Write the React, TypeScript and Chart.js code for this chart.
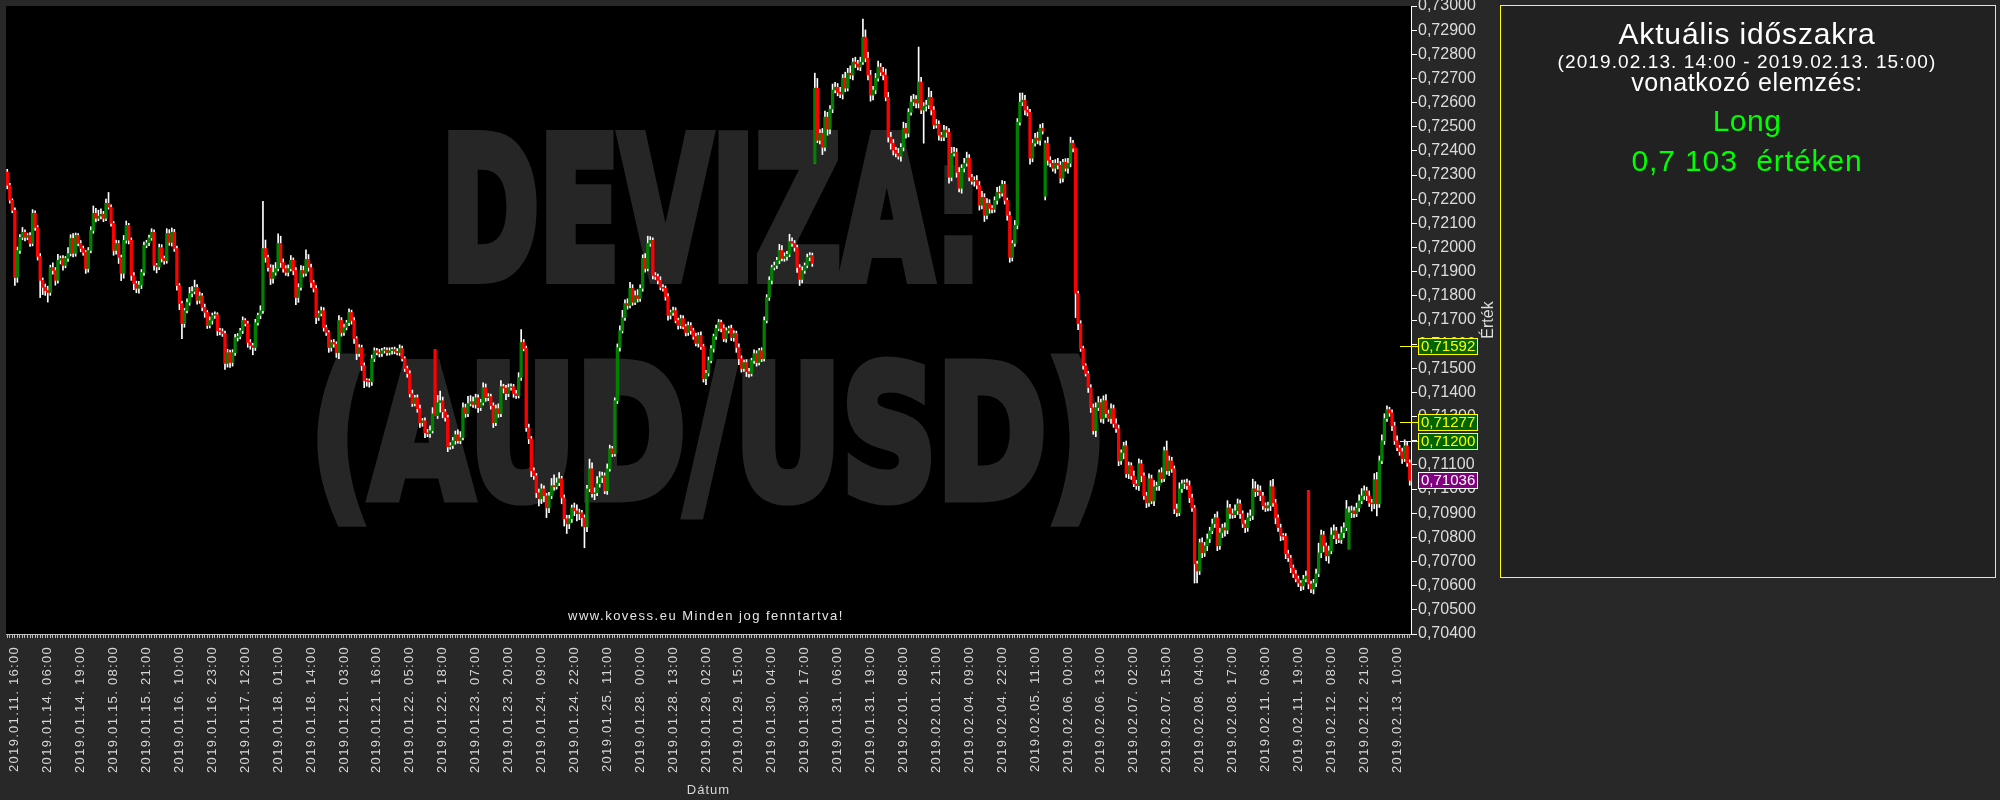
import React, { useEffect, useRef } from 'react';
import { Chart, registerables } from 'chart.js';

Chart.register(...registerables);

const FONT = '"Liberation Sans", Arial, sans-serif';

// Hourly AUD/USD candles. Prices are stored as offsets above 0.70000 in 1/100000 units.
const xTickLabels = [
  '2019.01.11. 16:00', '2019.01.14. 06:00', '2019.01.14. 19:00', '2019.01.15. 08:00', '2019.01.15. 21:00',
  '2019.01.16. 10:00', '2019.01.16. 23:00', '2019.01.17. 12:00', '2019.01.18. 01:00', '2019.01.18. 14:00',
  '2019.01.21. 03:00', '2019.01.21. 16:00', '2019.01.22. 05:00', '2019.01.22. 18:00', '2019.01.23. 07:00',
  '2019.01.23. 20:00', '2019.01.24. 09:00', '2019.01.24. 22:00', '2019.01.25. 11:00', '2019.01.28. 00:00',
  '2019.01.28. 13:00', '2019.01.29. 02:00', '2019.01.29. 15:00', '2019.01.30. 04:00', '2019.01.30. 17:00',
  '2019.01.31. 06:00', '2019.01.31. 19:00', '2019.02.01. 08:00', '2019.02.01. 21:00', '2019.02.04. 09:00',
  '2019.02.04. 22:00', '2019.02.05. 11:00', '2019.02.06. 00:00', '2019.02.06. 13:00', '2019.02.07. 02:00',
  '2019.02.07. 15:00', '2019.02.08. 04:00', '2019.02.08. 17:00', '2019.02.11. 06:00', '2019.02.11. 19:00',
  '2019.02.12. 08:00', '2019.02.12. 21:00', '2019.02.13. 10:00',
];
const firstLabelBar = 3;
const labelEvery = 13;

const closesA = [
  2258, 2196, 2154, 1876, 1988, 2042, 2063, 2042, 2050, 2017,
  2142, 2083, 1963, 1864, 1835, 1822, 1814, 1917, 1905, 1864,
  1947, 1955, 1926, 1955, 1975, 2038, 1976, 2050, 2017, 1996,
  1980, 1913, 1988, 2071, 2142, 2121, 2130, 2138, 2121, 2183,
  2167, 2100, 1988, 2017, 1959, 1893, 2030, 2092, 2030, 1884,
  1851, 1831, 1845, 1897, 2009, 2020, 2040, 2063, 1926, 1920,
  2000, 1955, 1945, 2058, 2021, 2063, 1996, 1843, 1768, 1685,
  1739, 1773, 1810, 1818, 1835, 1781, 1800, 1752, 1731, 1677,
  1698, 1719, 1722, 1656, 1652, 1644, 1520, 1565, 1524, 1565,
  1627, 1632, 1656, 1698, 1685, 1607, 1594, 1586, 1689, 1719,
  1739, 1996, 1959, 1917, 1872, 1897, 1913, 2017, 1938, 1913,
  1897, 1913, 1947, 1905, 1793, 1835, 1905, 1893, 1951, 1917,
  1855, 1831, 1710, 1727, 1739, 1669, 1648, 1586, 1607, 1600,
  1565, 1698, 1648, 1669, 1689, 1731, 1698, 1623, 1561, 1586,
  1511, 1449, 1446, 1444, 1540, 1573, 1565, 1561, 1573, 1575,
  1565, 1573, 1578, 1570,
];
const closesB = [
  1565, 1582, 1540, 1499, 1478, 1395, 1354, 1378, 1333, 1275,
  1283, 1233, 1229, 1242, 1312, 1304, 1358, 1366, 1320, 1296,
  1175, 1180, 1200, 1225, 1200, 1213, 1337, 1312, 1354, 1362,
  1350, 1378, 1337, 1358, 1420, 1378, 1383, 1345, 1275, 1333,
  1312, 1424, 1418, 1395, 1420, 1424, 1395, 1387, 1462, 1607,
  1582, 1254, 1208, 1076, 1055, 985, 960, 1001, 972, 922,
  972, 1014, 1010, 1026, 1043, 964, 877, 856, 877, 922,
  910, 898, 902, 881, 844, 1001, 1084, 981, 985, 1022,
  1047, 1055, 993, 1084, 1167, 1146, 1366, 1586, 1656, 1710,
  1768, 1760, 1831, 1773, 1801, 1789, 1831,
];
const closesC = [
  1955, 1913, 2017, 2030, 1884, 1880, 1864, 1835, 1831, 1797,
  1719, 1731, 1739, 1698, 1677, 1706, 1673, 1648, 1677, 1656,
  1632, 1603, 1636, 1590, 1457, 1480, 1532, 1582, 1632, 1665,
  1690, 1665, 1623, 1656, 1665, 1627, 1644, 1586, 1540, 1499,
  1524, 1486, 1478, 1532, 1561, 1524, 1573, 1540, 1698,
];
const closesD = [
  1793, 1864, 1917, 1926, 1947, 1988, 1955, 1963, 1972, 2025,
  2017, 2000, 1917, 1868, 1905, 1926, 1959, 1967, 1934,
];
const closesE = [
  2660, 2444, 2473, 2415, 2540, 2490, 2573, 2652, 2664, 2643,
  2635, 2701, 2660, 2722, 2714, 2768, 2760, 2747, 2768, 2871,
  2784, 2714, 2631, 2652, 2701, 2747, 2726, 2714, 2622, 2457,
  2432, 2403, 2390, 2378, 2415, 2494, 2473, 2560, 2602, 2614,
  2598,
];
const closesF = [
  2685, 2569, 2585, 2590, 2622, 2569, 2507, 2510, 2465, 2457,
  2486, 2477, 2291, 2390, 2395, 2311, 2245, 2328, 2349, 2370,
  2291, 2274, 2278, 2258, 2175, 2208, 2133, 2183, 2162, 2158,
  2195, 2229, 2225, 2262, 2195, 2133, 1959, 2017, 2092, 2519,
  2602, 2610, 2569, 2560, 2370, 2432, 2453, 2444, 2494, 2482,
  2432, 2361, 2349, 2328, 2349, 2341, 2287, 2353, 2328, 2349,
  2432, 2411, 1810, 1685, 1582, 1511, 1478, 1420,
];
const closesG = [
  1337, 1242, 1337, 1358, 1292, 1366, 1312, 1292, 1333, 1271,
  1250, 1117, 1150, 1179, 1063, 1097, 1055, 1022, 1014, 1105,
  1055, 972, 943, 1043, 951, 1010, 1014, 1068, 1043, 1159,
  1076, 1117, 1084, 918, 902, 1001, 1022, 1026, 1014, 964,
  922, 690, 661, 778, 736, 765, 794, 827, 856, 881,
  765, 819, 840, 830, 922, 898, 894, 910, 939,
];
const closesH = [
  898, 856, 840, 881, 889, 1001, 989, 993, 972, 931,
  922, 931, 1010, 943, 881, 840, 806, 804, 732, 715,
  674, 649, 628, 611, 599, 628, 640, 607, 586, 611,
  649, 736, 810, 765, 723, 744, 810, 827, 794, 790,
  819, 840, 918, 902, 910, 898, 922, 951, 972, 993,
  972, 943, 939, 1039, 939, 1117, 1200, 1292, 1329, 1316,
  1262, 1200, 1171, 1155, 1126, 1179, 1109, 1036,
];

// bars whose open differs from the previous close (price gaps): [bar index, open]
const gapOpens: [number, number][] = [[0, 2313], [169, 1577], [319, 2349], [410, 2212], [514, 993], [530, 752]];

// wick extension above / below the body
const wickUp = [
  11, 8, 6, 10, 14, 12, 20, 10, 8, 12, 15, 10, 8, 12, 10, 14, 18, 10, 20, 12,
  25, 10, 12, 8, 25, 15, 20, 10, 8, 12, 10, 8, 12, 15, 30, 20, 25, 22, 12, 18,
  45, 10, 8, 14, 12, 10, 20, 18, 8, 10, 12, 10, 15, 12, 14, 10, 12, 15, 10, 8,
  14, 12, 10, 20, 16, 18, 12, 10, 8, 10, 10, 15, 25, 20, 30, 12, 16, 10, 14, 8,
  15, 10, 12, 8, 10, 12, 10, 14, 10, 12, 14, 12, 10, 15, 8, 10, 12, 10, 14, 10,
  20, 195, 35, 10, 12, 30, 25, 40, 30, 15, 12, 15, 20, 10, 12, 15, 20, 18, 40, 20,
  15, 10, 12, 10, 15, 12, 10, 8, 10, 12, 10, 20, 12, 14, 10, 15, 10, 12, 8, 12,
  10, 12, 8, 10, 15, 12, 10, 14, 10, 12, 10, 12, 8, 10,
  12, 15, 10, 8, 10, 12, 15, 10, 12, 15, 10, 12, 14, 20, 25, 0, 30, 40, 15, 10,
  10, 12, 14, 15, 20, 25, 20, 15, 30, 25, 20, 15, 12, 14, 20, 15, 12, 10, 12, 15,
  20, 25, 10, 12, 15, 12, 10, 14, 20, 53, 12, 10, 15, 10, 12, 10, 15, 20, 12, 10,
  15, 30, 45, 20, 25, 10, 12, 15, 15, 12, 20, 25, 15, 10, 12, 15, 40, 25, 20, 30,
  25, 15, 12, 20, 15, 10, 12, 15, 20, 30, 15, 20, 25, 15, 20, 25, 15,
  15, 20, 30, 15, 10, 12, 10, 15, 12, 10, 12, 10, 15, 12, 10, 14, 12, 10, 15, 12,
  10, 14, 12, 15, 10, 12, 15, 12, 10, 14, 12, 10, 15, 12, 10, 14, 12, 10, 15, 12,
  10, 12, 14, 10, 15, 12, 10, 12, 15,
  12, 15, 10, 14, 12, 25, 20, 15, 12, 30, 15, 12, 10, 12, 15, 10, 14, 12, 10,
  62, 40, 15, 20, 25, 20, 15, 25, 20, 15, 20, 15, 25, 20, 30, 15, 20, 15, 20, 75,
  30, 25, 20, 15, 20, 25, 15, 20, 25, 20, 20, 15, 12, 20, 15, 25, 20, 15, 25, 20, 15,
  145, 20, 15, 20, 40, 25, 15, 20, 15, 12, 20, 15, 15, 25, 20, 15, 20, 15, 20, 25,
  15, 12, 15, 20, 15, 25, 15, 20, 15, 12, 15, 20, 25, 15, 12, 10, 15, 12, 20, 15,
  37, 30, 20, 15, 12, 15, 20, 25, 15, 20, 10, 25, 15, 12, 15, 20, 15, 12, 15, 20,
  25, 12, 0, 10, 12, 10, 8, 10,
  12, 15, 20, 25, 15, 20, 25, 15, 20, 15, 20, 15, 12, 15, 20, 15, 12, 20, 15, 20,
  15, 12, 15, 20, 15, 25, 15, 12, 20, 15, 40, 20, 15, 12, 20, 25, 15, 12, 15, 20,
  15, 10, 12, 15, 20, 15, 20, 15, 20, 15, 25, 20, 15, 20, 30, 15, 20, 25, 20,
  15, 12, 15, 20, 25, 40, 30, 25, 20, 15, 12, 15, 25, 30, 15, 12, 15, 10, 12, 15,
  10, 12, 15, 12, 10, 15, 20, 0, 12, 15, 20, 40, 20, 15, 12, 20, 30, 25, 15, 20,
  25, 20, 35, 25, 20, 15, 20, 25, 30, 20, 15, 20, 15, 25, 30, 20, 25, 20, 16, 10,
  12, 15, 20, 10, 15, 25, 15, 12,
];
const wickDn = [
  15, 12, 10, 33, 20, 12, 10, 15, 10, 12, 10, 12, 15, 71, 30, 20, 40, 12, 15, 20,
  12, 15, 20, 10, 12, 10, 15, 12, 10, 14, 12, 20, 15, 10, 12, 15, 10, 12, 14, 10,
  8, 12, 20, 15, 25, 30, 20, 12, 15, 20, 25, 18, 20, 15, 12, 10, 12, 10, 20, 25,
  12, 15, 14, 10, 12, 15, 12, 20, 25, 62, 15, 10, 12, 14, 10, 15, 12, 14, 20, 12,
  10, 15, 12, 20, 14, 12, 25, 15, 20, 15, 12, 14, 10, 12, 10, 20, 15, 30, 12, 10,
  14, 12, 20, 15, 25, 20, 12, 10, 20, 15, 12, 15, 10, 18, 30, 20, 12, 15, 10, 15,
  20, 15, 25, 12, 10, 15, 12, 20, 15, 12, 20, 25, 15, 12, 10, 12, 15, 20, 25, 12,
  20, 29, 20, 22, 15, 12, 10, 14, 12, 10, 12, 10, 14, 10,
  10, 12, 10, 12, 15, 14, 12, 10, 15, 20, 15, 20, 12, 15, 10, 0, 12, 40, 25, 15,
  20, 10, 12, 14, 10, 12, 10, 15, 12, 10, 12, 15, 20, 12, 10, 15, 12, 14, 20, 12,
  15, 12, 20, 25, 12, 10, 15, 12, 10, 12, 10, 15, 20, 25, 15, 20, 30, 20, 25, 40,
  20, 12, 15, 10, 12, 25, 30, 40, 20, 15, 20, 30, 25, 35, 87, 20, 12, 15, 25, 12,
  14, 20, 12, 15, 10, 12, 10, 12, 15, 10, 12, 15, 10, 12, 10, 15, 12,
  12, 15, 10, 12, 14, 12, 15, 10, 12, 15, 20, 15, 12, 10, 15, 12, 10, 14, 12, 15,
  12, 10, 15, 12, 14, 25, 12, 10, 15, 12, 10, 14, 12, 15, 10, 12, 15, 20, 25, 15,
  12, 20, 15, 10, 12, 15, 10, 12, 10,
  10, 12, 15, 10, 12, 14, 10, 12, 15, 10, 12, 15, 20, 25, 15, 12, 10, 14, 12,
  0, 10, 15, 30, 15, 25, 20, 15, 12, 15, 15, 20, 15, 12, 15, 20, 15, 12, 15, 10,
  15, 20, 25, 20, 15, 12, 15, 20, 15, 20, 25, 20, 15, 12, 20, 15, 20, 15, 12, 15, 20,
  20, 15, 137, 20, 15, 20, 15, 12, 20, 15, 15, 20, 25, 15, 12, 20, 15, 20, 15, 12,
  15, 12, 20, 15, 20, 15, 25, 15, 20, 15, 12, 15, 20, 12, 15, 20, 20, 15, 12, 15,
  12, 15, 20, 15, 25, 15, 12, 15, 20, 12, 15, 20, 15, 12, 20, 15, 20, 15, 12, 20,
  15, 15, 100, 25, 12, 15, 10, 20,
  20, 15, 25, 12, 15, 20, 15, 12, 20, 15, 15, 20, 15, 25, 15, 20, 15, 12, 15, 20,
  25, 15, 20, 15, 12, 20, 15, 20, 15, 12, 15, 20, 15, 20, 15, 12, 15, 20, 15, 20,
  15, 79, 50, 15, 20, 15, 20, 15, 12, 15, 20, 15, 20, 25, 15, 20, 15, 12, 15,
  20, 15, 20, 15, 12, 15, 20, 15, 20, 15, 15, 12, 20, 15, 25, 15, 20, 15, 20, 15,
  20, 15, 12, 15, 20, 15, 12, 20, 15, 20, 15, 12, 20, 25, 20, 30, 12, 15, 20, 12,
  15, 20, 12, 0, 20, 15, 12, 15, 12, 15, 20, 15, 30, 20, 50, 15, 12, 15, 12, 15,
  20, 15, 12, 15, 20, 12, 15, 20,
];

const signalLevels = [1592, 1277, 1200];
const lastQuote = 1036;

const closes = [...closesA, ...closesB, ...closesC, ...closesD, ...closesE, ...closesF, ...closesG, ...closesH];
const opens = closes.map((c, i) => (i === 0 ? c : closes[i - 1]));
gapOpens.forEach(([i, v]) => { opens[i] = v; });
const highs = closes.map((c, i) => Math.max(c, opens[i]) + (wickUp[i] ?? 10));
const lows = closes.map((c, i) => Math.min(c, opens[i]) - (wickDn[i] ?? 10));
const labels = closes.map((_, i) =>
  i >= firstLabelBar && (i - firstLabelBar) % labelEvery === 0 ? xTickLabels[(i - firstLabelBar) / labelEvery] ?? '' : '');

const fmt = (v: number) => '0,' + String(70000 + Math.round(v));

const framePlugin = {
  id: 'frame',
  beforeDraw(chart: any) {
    const { ctx, chartArea: a } = chart;
    ctx.save();
    ctx.fillStyle = '#282828';
    ctx.fillRect(0, 0, chart.width, chart.height);
    ctx.fillStyle = '#000000';
    ctx.fillRect(a.left, a.top, a.right - a.left, a.bottom - a.top);
    ctx.restore();
    const xs: any = chart.scales.x;
    if (!xs.__spaced) {
      xs.__spaced = true;
      const dl = xs.drawLabels;
      xs.drawLabels = function (area: any) {
        const c = this.ctx; c.save(); c.letterSpacing = '1.3px'; dl.call(this, area); c.restore();
      };
      const dt = xs.drawTitle;
      xs.drawTitle = function () {
        const c = this.ctx; c.save(); c.letterSpacing = '1px'; dt.call(this); c.restore();
      };
    }
  },
  beforeDatasetsDraw(chart: any) {
    const { ctx, chartArea: a } = chart;
    ctx.save();
    ctx.beginPath();
    ctx.rect(a.left, a.top, a.right - a.left, a.bottom - a.top);
    ctx.clip();
    ctx.fillStyle = '#262626';
    ctx.strokeStyle = '#262626';
    ctx.lineWidth = 12;
    ctx.lineJoin = 'miter';
    ctx.textAlign = 'left';
    ctx.textBaseline = 'alphabetic';
    ctx.font = `bold 195px "DejaVu Sans", ${FONT}`;
    ctx.strokeText('DEVIZA:', 441, 278, 541);
    ctx.fillText('DEVIZA:', 441, 278, 541);
    ctx.save();
    ctx.translate(0, 497);
    ctx.scale(1, 0.93);
    ctx.strokeText('(AUD/USD)', 310, 0, 797);
    ctx.fillText('(AUD/USD)', 310, 0, 797);
    ctx.restore();
    ctx.fillStyle = '#e6e6e6';
    ctx.font = `13px ${FONT}`;
    ctx.letterSpacing = '1.5px';
    ctx.textAlign = 'center';
    ctx.fillText('www.kovess.eu Minden jog fenntartva!', 706, 620);
    ctx.restore();
  },
  afterDraw(chart: any) {
    const { ctx } = chart;
    const ys = chart.scales.y;
    ctx.save();
    ctx.font = `15px ${FONT}`;
    ctx.textBaseline = 'middle';
    ctx.textAlign = 'left';
    signalLevels.forEach((lv) => {
      const y = Math.round(ys.getPixelForValue(lv));
      ctx.strokeStyle = '#ffff00';
      ctx.lineWidth = 1;
      ctx.beginPath();
      ctx.moveTo(1400, y + 0.5);
      ctx.lineTo(1418, y + 0.5);
      ctx.stroke();
      ctx.fillStyle = '#006400';
      ctx.fillRect(1418, y - 8, 60, 17);
      ctx.strokeRect(1418.5, y - 7.5, 59, 16);
      ctx.fillStyle = '#ffff00';
      ctx.fillText(fmt(lv), 1421, y + 1);
    });
    {
      const y = Math.round(ys.getPixelForValue(lastQuote));
      ctx.fillStyle = '#800080';
      ctx.fillRect(1418, y - 8, 60, 17);
      ctx.strokeStyle = '#ffffff';
      ctx.strokeRect(1418.5, y - 7.5, 59, 16);
      ctx.fillStyle = '#ffffff';
      ctx.fillText(fmt(lastQuote), 1421, y + 1);
    }
    ctx.save();
    ctx.translate(1489, 320);
    ctx.rotate(-Math.PI / 2);
    ctx.textAlign = 'center';
    ctx.textBaseline = 'middle';
    ctx.fillStyle = '#dcdcdc';
    ctx.font = `16px ${FONT}`;
    ctx.fillText('Érték', 0, 0);
    ctx.restore();

    ctx.fillStyle = '#212121';
    ctx.fillRect(1500, 5, 495, 572);
    ctx.strokeStyle = '#ffff00';
    ctx.lineWidth = 1;
    ctx.strokeRect(1500.5, 5.5, 495, 572);
    ctx.textAlign = 'center';
    ctx.textBaseline = 'alphabetic';
    const line = (t: string, size: number, sp: string, y: number, color: string) => {
      ctx.font = `${size}px ${FONT}`;
      ctx.letterSpacing = sp;
      ctx.fillStyle = color;
      ctx.fillText(t, 1747, y);
    };
    line('Aktuális időszakra', 30, '0.85px', 44, '#ffffff');
    line('(2019.02.13. 14:00 - 2019.02.13. 15:00)', 19, '1.1px', 68, '#ffffff');
    line('vonatkozó elemzés:', 25, '0.6px', 91, '#ffffff');
    line('Long', 30, '0.5px', 131, '#00ff00');
    line('0,7 103  értéken', 30, '0.9px', 171, '#00ff00');
    ctx.restore();
  },
};

export default function App() {
  const ref = useRef<HTMLCanvasElement>(null);
  useEffect(() => {
    const canvas = ref.current;
    if (!canvas) return;
    const chart = new Chart(canvas, {
      type: 'bar',
      data: {
        labels,
        datasets: [
          {
            label: 'wick',
            data: lows.map((l, i) => [l, highs[i]]) as any,
            backgroundColor: '#ffffff',
            borderWidth: 0,
            barThickness: 1,
            grouped: false,
            order: 2,
          } as any,
          {
            label: 'body',
            data: opens.map((o, i) => [o, closes[i]]) as any,
            backgroundColor: closes.map((c, i) => (c >= opens[i] ? '#008000' : '#ff0000')),
            borderWidth: 0,
            barThickness: 2.6,
            minBarLength: 1,
            grouped: false,
            order: 1,
          } as any,
        ],
      },
      options: {
        animation: false,
        responsive: false,
        devicePixelRatio: 1,
        events: [],
        layout: { padding: { left: 6, top: 6, right: 500, bottom: 0 } },
        plugins: { legend: { display: false }, tooltip: { enabled: false } },
        scales: {
          x: {
            offset: true,
            grid: { drawOnChartArea: false, drawTicks: true, tickLength: 4, color: '#bdbdbd', offset: false },
            border: { display: true, color: '#bdbdbd' },
            ticks: {
              autoSkip: false, maxRotation: 90, minRotation: 90, padding: 8, color: '#d6d6d6',
              font: { family: FONT, size: 13, lineHeight: 1 },
            },
            title: {
              display: true, text: 'Dátum', color: '#d6d6d6',
              font: { family: FONT, size: 13 }, padding: { top: 0, bottom: 2 },
            },
            afterFit: (s: any) => { s.height = 166; s.paddingLeft = 0; s.paddingRight = 0; },
          },
          y: {
            position: 'right',
            min: 400,
            max: 3000,
            grid: { drawOnChartArea: false, tickLength: 6, color: '#ffffff' },
            border: { display: true, color: '#ffffff' },
            ticks: {
              stepSize: 100, autoSkip: false, maxTicksLimit: 100, padding: 1, color: '#dcdcdc',
              font: { family: FONT, size: 16, lineHeight: 0.75 },
              callback: (v: any) => fmt(Number(v)),
            },
            afterFit: (s: any) => { s.width = 89; s.paddingTop = 0; s.paddingBottom = 0; },
          },
        },
      } as any,
      plugins: [framePlugin],
    });
    return () => chart.destroy();
  }, []);
  return (
    <div style={{ position: 'fixed', left: 0, top: 0, width: 2000, height: 800, background: '#282828' }}>
      <canvas ref={ref} width={2000} height={800} style={{ display: 'block', width: 2000, height: 800 }} />
    </div>
  );
}
